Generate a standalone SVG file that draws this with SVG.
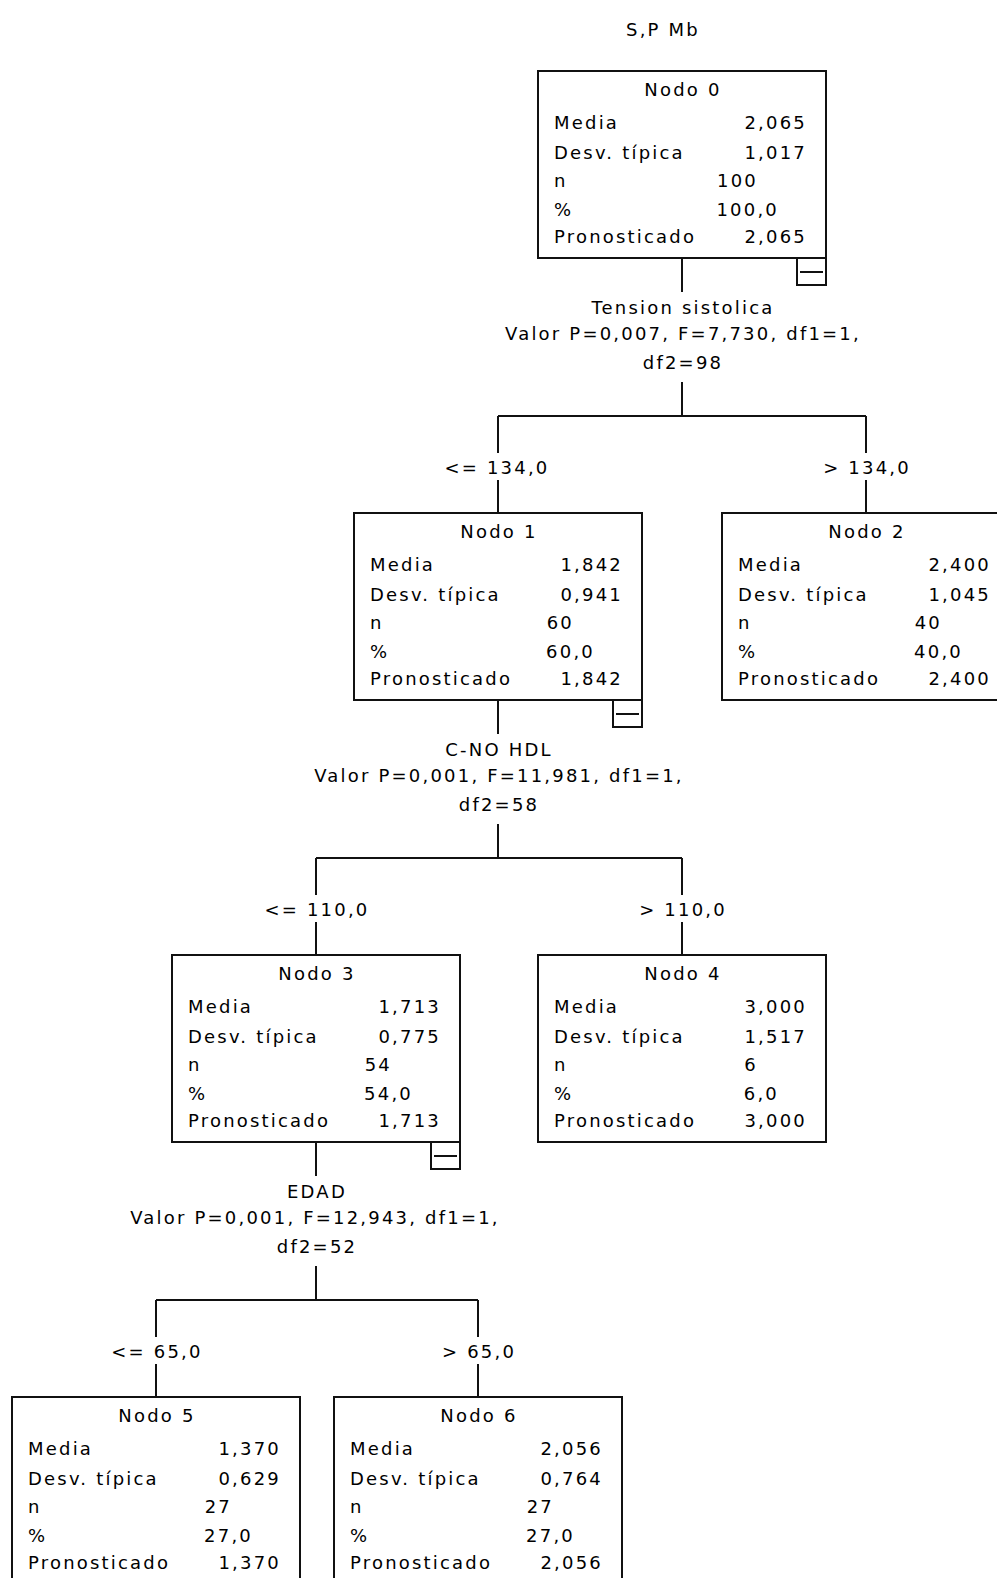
<svg xmlns="http://www.w3.org/2000/svg" width="997" height="1578" viewBox="0 0 997 1578">
<style>
.t{font-family:"DejaVu Sans","Liberation Sans",Arial,sans-serif;font-size:18px;letter-spacing:2.2px;fill:#000}
.m{text-anchor:middle}
.e{text-anchor:end}
.box{fill:#fff;stroke:#111;stroke-width:2}
.ln{stroke:#111;stroke-width:2;fill:none}
</style>
<rect x="0" y="0" width="997" height="1578" fill="#fff"/>
<text class="t m" x="663" y="36">S,P Mb</text>

<g id="connectors">
  <!-- level 1 -->
  <path class="ln" d="M682 258V292M682 382V416M498 416H866M498 416V453M866 416V453M498 480V513M866 480V513"/>
  <text class="t m" x="683" y="314">Tension sistolica</text>
  <text class="t m" x="683" y="340">Valor P=0,007, F=7,730, df1=1,</text>
  <text class="t m" x="683" y="369">df2=98</text>
  <text class="t m" x="497" y="474">&lt;= 134,0</text>
  <text class="t m" x="867" y="474">&gt; 134,0</text>
  <!-- level 2 -->
  <path class="ln" d="M498 700V734M498 824V858M316 858H682M316 858V895M682 858V895M316 922V955M682 922V955"/>
  <text class="t m" x="499" y="756">C-NO HDL</text>
  <text class="t m" x="499" y="782">Valor P=0,001, F=11,981, df1=1,</text>
  <text class="t m" x="499" y="811">df2=58</text>
  <text class="t m" x="317" y="916">&lt;= 110,0</text>
  <text class="t m" x="683" y="916">&gt; 110,0</text>
  <!-- level 3 -->
  <path class="ln" d="M316 1142V1176M316 1266V1300M156 1300H478M156 1300V1337M478 1300V1337M156 1364V1397M478 1364V1397"/>
  <text class="t m" x="317" y="1198">EDAD</text>
  <text class="t m" x="315" y="1224">Valor P=0,001, F=12,943, df1=1,</text>
  <text class="t m" x="317" y="1253">df2=52</text>
  <text class="t m" x="157" y="1358">&lt;= 65,0</text>
  <text class="t m" x="479" y="1358">&gt; 65,0</text>
</g>

<g id="node0">
  <rect class="box" x="538" y="71" width="288" height="187"/>
  <rect class="box" x="797" y="258" width="29" height="27"/>
  <path class="ln" d="M800 272H823"/>
  <text class="t m" x="683" y="96">Nodo 0</text>
  <text class="t" x="554" y="129">Media</text><text class="t e" x="807" y="129">2,065</text>
  <text class="t" x="554" y="159">Desv. típica</text><text class="t e" x="807" y="159">1,017</text>
  <text class="t" x="554" y="187">n</text><text class="t e" x="758" y="187">100</text>
  <text class="t" x="554" y="216">%</text><text class="t e" x="779" y="216">100,0</text>
  <text class="t" x="554" y="243">Pronosticado</text><text class="t e" x="807" y="243">2,065</text>
</g>

<g id="node1">
  <rect class="box" x="354" y="513" width="288" height="187"/>
  <rect class="box" x="613" y="700" width="29" height="27"/>
  <path class="ln" d="M616 714H639"/>
  <text class="t m" x="499" y="538">Nodo 1</text>
  <text class="t" x="370" y="571">Media</text><text class="t e" x="623" y="571">1,842</text>
  <text class="t" x="370" y="601">Desv. típica</text><text class="t e" x="623" y="601">0,941</text>
  <text class="t" x="370" y="629">n</text><text class="t e" x="574" y="629">60</text>
  <text class="t" x="370" y="658">%</text><text class="t e" x="595" y="658">60,0</text>
  <text class="t" x="370" y="685">Pronosticado</text><text class="t e" x="623" y="685">1,842</text>
</g>

<g id="node2">
  <rect class="box" x="722" y="513" width="288" height="187"/>
  <text class="t m" x="867" y="538">Nodo 2</text>
  <text class="t" x="738" y="571">Media</text><text class="t e" x="991" y="571">2,400</text>
  <text class="t" x="738" y="601">Desv. típica</text><text class="t e" x="991" y="601">1,045</text>
  <text class="t" x="738" y="629">n</text><text class="t e" x="942" y="629">40</text>
  <text class="t" x="738" y="658">%</text><text class="t e" x="963" y="658">40,0</text>
  <text class="t" x="738" y="685">Pronosticado</text><text class="t e" x="991" y="685">2,400</text>
</g>

<g id="node3">
  <rect class="box" x="172" y="955" width="288" height="187"/>
  <rect class="box" x="431" y="1142" width="29" height="27"/>
  <path class="ln" d="M434 1156H457"/>
  <text class="t m" x="317" y="980">Nodo 3</text>
  <text class="t" x="188" y="1013">Media</text><text class="t e" x="441" y="1013">1,713</text>
  <text class="t" x="188" y="1043">Desv. típica</text><text class="t e" x="441" y="1043">0,775</text>
  <text class="t" x="188" y="1071">n</text><text class="t e" x="392" y="1071">54</text>
  <text class="t" x="188" y="1100">%</text><text class="t e" x="413" y="1100">54,0</text>
  <text class="t" x="188" y="1127">Pronosticado</text><text class="t e" x="441" y="1127">1,713</text>
</g>

<g id="node4">
  <rect class="box" x="538" y="955" width="288" height="187"/>
  <text class="t m" x="683" y="980">Nodo 4</text>
  <text class="t" x="554" y="1013">Media</text><text class="t e" x="807" y="1013">3,000</text>
  <text class="t" x="554" y="1043">Desv. típica</text><text class="t e" x="807" y="1043">1,517</text>
  <text class="t" x="554" y="1071">n</text><text class="t e" x="758" y="1071">6</text>
  <text class="t" x="554" y="1100">%</text><text class="t e" x="779" y="1100">6,0</text>
  <text class="t" x="554" y="1127">Pronosticado</text><text class="t e" x="807" y="1127">3,000</text>
</g>

<g id="node5">
  <rect class="box" x="12" y="1397" width="288" height="187"/>
  <text class="t m" x="157" y="1422">Nodo 5</text>
  <text class="t" x="28" y="1455">Media</text><text class="t e" x="281" y="1455">1,370</text>
  <text class="t" x="28" y="1485">Desv. típica</text><text class="t e" x="281" y="1485">0,629</text>
  <text class="t" x="28" y="1513">n</text><text class="t e" x="232" y="1513">27</text>
  <text class="t" x="28" y="1542">%</text><text class="t e" x="253" y="1542">27,0</text>
  <text class="t" x="28" y="1569">Pronosticado</text><text class="t e" x="281" y="1569">1,370</text>
</g>

<g id="node6">
  <rect class="box" x="334" y="1397" width="288" height="187"/>
  <text class="t m" x="479" y="1422">Nodo 6</text>
  <text class="t" x="350" y="1455">Media</text><text class="t e" x="603" y="1455">2,056</text>
  <text class="t" x="350" y="1485">Desv. típica</text><text class="t e" x="603" y="1485">0,764</text>
  <text class="t" x="350" y="1513">n</text><text class="t e" x="554" y="1513">27</text>
  <text class="t" x="350" y="1542">%</text><text class="t e" x="575" y="1542">27,0</text>
  <text class="t" x="350" y="1569">Pronosticado</text><text class="t e" x="603" y="1569">2,056</text>
</g>
</svg>
